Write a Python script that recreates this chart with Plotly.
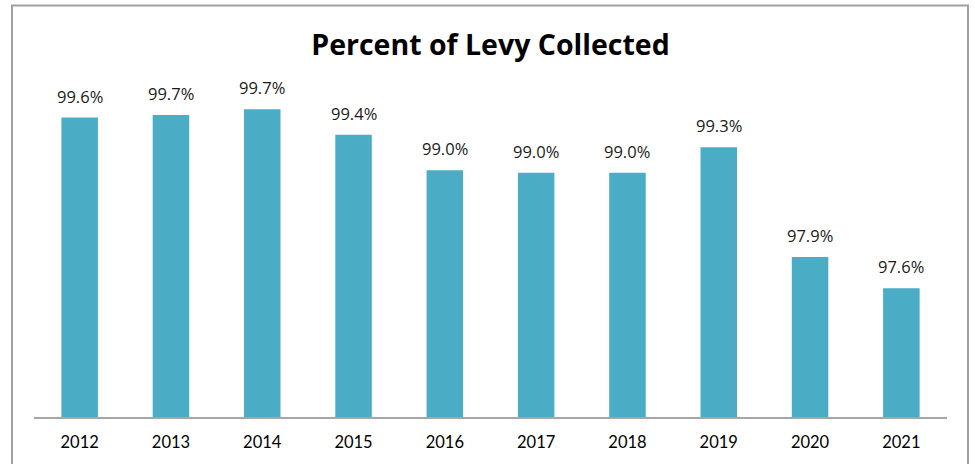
import plotly.graph_objects as go

years = ["2012", "2013", "2014", "2015", "2016", "2017", "2018", "2019", "2020", "2021"]
percent_collected = [99.63, 99.66, 99.73, 99.42, 98.99, 98.96, 98.96, 99.27, 97.94, 97.56]

fig = go.Figure()
fig.add_trace(go.Bar(
    x=years,
    y=percent_collected,
    marker=dict(color="#4BACC6", line=dict(width=0)),
    cliponaxis=False,
    width=0.4,
    hoverinfo="x+y",
))

annotations = [
    dict(
        x=i, y=val, xref="x", yref="y",
        text=f"{val:.1f}%",
        showarrow=False,
        yanchor="bottom",
        xanchor="center",
        yshift=8,
        font=dict(family="Open Sans", size=16.5, color="#1a1a1a"),
    )
    for i, val in enumerate(percent_collected)
]

fig.update_layout(
    width=975,
    height=464,
    paper_bgcolor="white",
    plot_bgcolor="white",
    margin=dict(l=34, r=28, t=87, b=45),
    showlegend=False,
    annotations=annotations,
    title=dict(
        text="<b>Percent of Levy Collected</b>",
        x=0.5,
        xref="paper",
        xanchor="center",
        y=1 - 45 / 464,
        yanchor="middle",
        font=dict(family="Open Sans", size=28.5, color="#000000"),
    ),
    xaxis=dict(
        type="category",
        range=[-0.5, len(years) - 0.5],
        showline=True,
        linecolor="#A6A6A6",
        linewidth=1.5,
        ticks="",
        ticklabelstandoff=9,
        showgrid=False,
        tickfont=dict(family="Lato", size=16.5, color="#000000"),
    ),
    yaxis=dict(
        range=[96, 100],
        visible=False,
        showgrid=False,
        zeroline=False,
    ),
    shapes=[dict(
        type="rect",
        xref="paper",
        yref="paper",
        x0=(12 - 34) / 913,
        x1=(968 - 34) / 913,
        y0=-0.5,
        y1=(419 - 5) / 332,
        line=dict(color="#A0A0A0", width=2),
        fillcolor="rgba(0,0,0,0)",
        layer="below",
    )],
)

fig.write_html(
    "out.html",
    config={"displayModeBar": False},
    post_script="document.body.style.margin='0';document.body.style.overflow='hidden';",
)
